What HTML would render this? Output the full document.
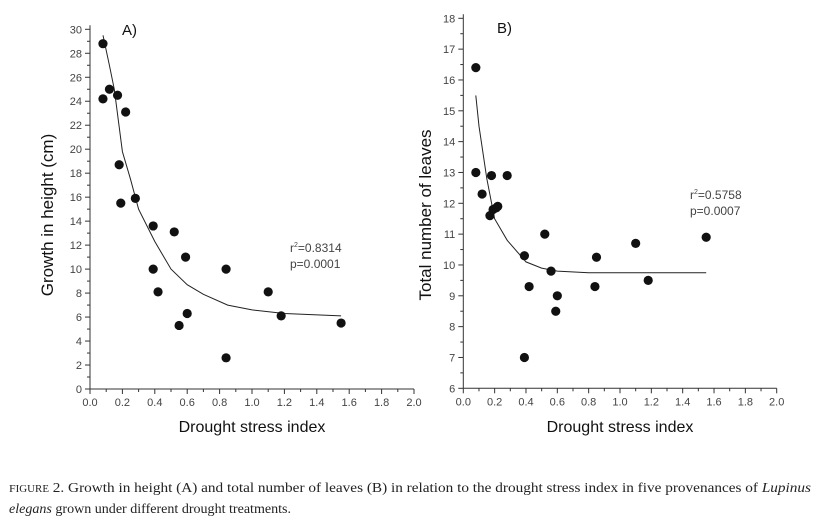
<!DOCTYPE html>
<html><head><meta charset="utf-8"><style>
body{margin:0;background:#fff;width:820px;height:524px;overflow:hidden}
svg{display:block}
.tk{font-family:"Liberation Sans",sans-serif;font-size:11px;fill:#444}
.tt{font-family:"Liberation Sans",sans-serif;font-size:16px;fill:#111}
.cap{font-family:"Liberation Serif",serif;font-size:14px;fill:#222}
</style></head><body>
<svg id="fig" width="820" height="524">
<g id="pa"></g>
<g id="pb"></g>
<text class="cap" x="9" y="492" textLength="802" lengthAdjust="spacingAndGlyphs"><tspan font-size="11">F</tspan><tspan font-size="10">IGURE</tspan> 2. Growth in height (A) and total number of leaves (B) in relation to the drought stress index in five provenances of <tspan font-style="italic">Lupinus</tspan></text>
<text class="cap" x="9" y="513" textLength="282" lengthAdjust="spacingAndGlyphs"><tspan font-style="italic">elegans</tspan> grown under different drought treatments.</text>
</svg>
<script>
const xTicks=["0.0","0.2","0.4","0.6","0.8","1.0","1.2","1.4","1.6","1.8","2.0"];
const aX=[0.08,0.08,0.12,0.17,0.22,0.18,0.19,0.28,0.39,0.39,0.42,0.52,0.55,0.59,0.60,0.84,0.84,1.10,1.18,1.55];
const aY=[28.8,24.2,25.0,24.5,23.1,18.7,15.5,15.9,13.6,10.0,8.1,13.1,5.3,11.0,6.3,10.0,2.6,8.1,6.1,5.5];
const aFitX=[0.08,0.12,0.15,0.2,0.25,0.3,0.4,0.5,0.6,0.7,0.85,1.0,1.2,1.55];
const aFitY=[29.5,27,25,19.8,17.5,15,12.3,10,8.7,7.9,7.0,6.6,6.3,6.1];
const aYTicks=[0,2,4,6,8,10,12,14,16,18,20,22,24,26,28,30];
const bX=[0.08,0.08,0.12,0.17,0.18,0.19,0.21,0.22,0.28,0.39,0.39,0.42,0.52,0.56,0.59,0.60,0.84,0.85,1.10,1.18,1.55];
const bY=[16.4,13.0,12.3,11.6,12.9,11.8,11.85,11.9,12.9,10.3,7.0,9.3,11.0,9.8,8.5,9.0,9.3,10.25,10.7,9.5,10.9];
const bFitX=[0.08,0.1,0.15,0.2,0.28,0.4,0.5,0.6,0.8,1.55];
const bFitY=[15.5,14.5,12.8,11.5,10.8,10.1,9.9,9.8,9.75,9.75];
const bYTicks=[6,7,8,9,10,11,12,13,14,15,16,17,18];
const NS="http://www.w3.org/2000/svg";
function mk(p,t,a){const e=document.createElementNS(NS,t);for(const k in a)e.setAttribute(k,a[k]);p.appendChild(e);return e;}
function panel(g,cfg){
  const sx=v=>cfg.x0+(v-0)*(cfg.x1-cfg.x0)/2;
  const sy=v=>cfg.y0-(v-cfg.ymin)*(cfg.y0-cfg.y1)/(cfg.ymax-cfg.ymin);
  let e=mk(g,'line',{x1:cfg.x0,y1:cfg.y0,x2:cfg.x0,y2:cfg.y1-4,stroke:'#333'});
  
  
  e=mk(g,'line',{x1:cfg.x0,y1:cfg.y0,x2:cfg.x1,y2:cfg.y0,stroke:'#333'});
  
  
  xTicks.forEach((t,i)=>{const v=parseFloat(t);const x=sx(v);
    mk(g,'line',{x1:x,y1:cfg.y0,x2:x,y2:cfg.y0+5,stroke:'#333'});
    if(i<xTicks.length-1)mk(g,'line',{x1:sx(v+0.1),y1:cfg.y0,x2:sx(v+0.1),y2:cfg.y0+3,stroke:'#333'});
    const tx=mk(g,'text',{x:x,y:cfg.y0+17,'text-anchor':'middle',class:'tk'});tx.textContent=t;
    
    
  });
  const yt=cfg.yt;const step=yt[1]-yt[0];
  yt.forEach((v,i)=>{const y=sy(v);
    mk(g,'line',{x1:cfg.x0-5,y1:y,x2:cfg.x0,y2:y,stroke:'#333'});
    if(i<yt.length-1)mk(g,'line',{x1:cfg.x0-3,y1:sy(v+step/2),x2:cfg.x0,y2:sy(v+step/2),stroke:'#333'});
    const tx=mk(g,'text',{x:cfg.x0-8,y:y+4,'text-anchor':'end',class:'tk'});tx.textContent=v;
    
    
  });
  let d='';cfg.fx.forEach((v,i)=>{d+=(i?'L':'M')+sx(v).toFixed(1)+' '+sy(cfg.fy[i]).toFixed(1);});
  e=mk(g,'path',{d:d,fill:'none',stroke:'#222','stroke-width':1});
  
  
  cfg.px.forEach((v,i)=>{const c=mk(g,'circle',{cx:sx(v),cy:sy(cfg.py[i]),r:4.6,fill:'#111'});
    
    
  });
  let t=mk(g,'text',{x:(cfg.x0+cfg.x1)/2,y:432,'text-anchor':'middle',class:'tt'});t.textContent='Drought stress index';
  
  
  t=mk(g,'text',{x:0,y:0,'text-anchor':'middle',class:'tt',transform:`translate(${cfg.ytx},215) rotate(-90)`,'font-size':'17px'});t.textContent=cfg.ytitle;
  t.style.fontSize='17px';
  
  
  t=mk(g,'text',{x:cfg.lx,y:cfg.ly,class:'tt','font-size':'15'});t.textContent=cfg.label;t.style.fontSize='15px';
  
  
  t=mk(g,'text',{x:cfg.rx,y:cfg.ry,class:'tk'});t.innerHTML='r<tspan dy="-5" font-size="7">2</tspan><tspan dy="5">='+cfg.r2+'</tspan>';
  t.style.fontSize='12px';
  
  
  t=mk(g,'text',{x:cfg.rx,y:cfg.ry+16,class:'tk'});t.textContent='p='+cfg.p;t.style.fontSize='12px';
  
  
}
panel(document.getElementById('pa'),{x0:90,x1:414,y0:389,y1:29.3,ymin:0,ymax:30,yt:aYTicks,px:aX,py:aY,fx:aFitX,fy:aFitY,ytitle:'Growth in height (cm)',ytx:53,label:'A)',lx:122,ly:35,rx:290,ry:252,r2:'0.8314',p:'0.0001'});
panel(document.getElementById('pb'),{x0:463.3,x1:776.7,y0:388.3,y1:18.3,ymin:6,ymax:18,yt:bYTicks,px:bX,py:bY,fx:bFitX,fy:bFitY,ytitle:'Total number of leaves',ytx:431,label:'B)',lx:497,ly:33,rx:690,ry:199,r2:'0.5758',p:'0.0007'});
</script>
</body></html>
